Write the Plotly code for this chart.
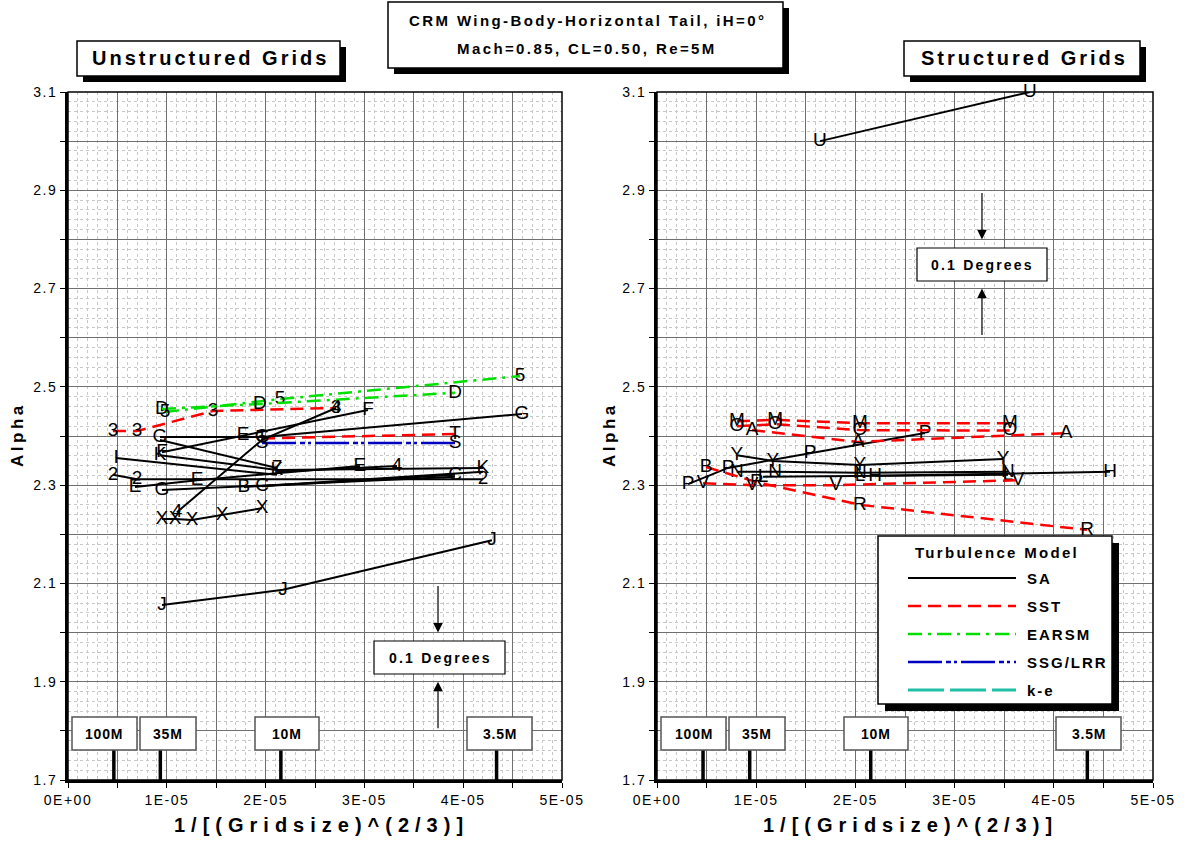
import plotly.graph_objects as go

W, H = 1190, 845
FONT = "Liberation Sans Narrow, Liberation Sans, Arial, sans-serif"

# ---------------- data: Unstructured grids (left panel) ----------------
L3_x = [0.455e-5, 0.698e-5, 1.468e-5, 2.713e-5];  L3_y = [2.410, 2.410, 2.451, 2.457]
LT_x = [1.964e-5, 3.917e-5];                        LT_y = [2.395, 2.404]
L5_x = [0.982e-5, 2.146e-5, 4.575e-5];              L5_y = [2.449, 2.475, 2.522]
LD_x = [0.951e-5, 1.943e-5, 3.917e-5];              LD_y = [2.455, 2.465, 2.488]
LS_x = [1.964e-5, 3.917e-5];                        LS_y = [2.386, 2.386]
LG_x = [0.931e-5, 1.964e-5, 4.595e-5];              LG_y = [2.398, 2.398, 2.445]
LF_x = [0.951e-5, 3.036e-5];                        LF_y = [2.367, 2.453]
LE2_x = [1.771e-5];                                 LE2_y = [2.402]
L7_x = [0.931e-5, 2.115e-5];                        L7_y = [2.392, 2.335]
LI_x = [0.486e-5, 2.115e-5];                        LI_y = [2.355, 2.321]
LK_x = [0.931e-5, 2.115e-5, 4.200e-5];              LK_y = [2.361, 2.331, 2.335]
L4b_x = [2.115e-5, 3.330e-5];                       L4b_y = [2.327, 2.339]
L2_x = [0.455e-5, 0.698e-5, 4.200e-5];              L2_y = [2.321, 2.312, 2.312]
LE_x = [0.678e-5, 1.306e-5, 2.955e-5];              LE_y = [2.296, 2.310, 2.339]
LG2_x = [0.951e-5, 3.917e-5];                       LG2_y = [2.290, 2.317]
LB_x = [1.781e-5, 4.200e-5];                        LB_y = [2.296, 2.327]
LC_x = [1.964e-5, 3.917e-5];                        LC_y = [2.298, 2.321]
L4_x = [1.103e-5, 1.964e-5, 2.713e-5];              L4_y = [2.245, 2.392, 2.457]
LX_x = [0.951e-5, 1.083e-5, 1.255e-5, 1.559e-5, 1.964e-5]; LX_y = [2.231, 2.231, 2.229, 2.239, 2.253]
LJ_x = [0.951e-5, 2.176e-5, 4.291e-5];              LJ_y = [2.056, 2.087, 2.188]

# ---------------- data: Structured grids (right panel) ----------------
RU_x = [1.643e-5, 3.760e-5];                        RU_y = [3.000, 3.100]
RP_x = [0.3125e-5, 0.716e-5, 1.542e-5, 2.702e-5];   RP_y = [2.302, 2.335, 2.365, 2.406]
RY_x = [0.806e-5, 1.169e-5, 2.046e-5, 3.488e-5];    RY_y = [2.361, 2.349, 2.341, 2.353]
RN_x = [0.806e-5, 1.190e-5, 2.046e-5, 3.538e-5];    RN_y = [2.327, 2.327, 2.325, 2.327]
RL_x = [1.069e-5, 2.046e-5, 3.538e-5];              RL_y = [2.317, 2.319, 2.321]
RH_x = [2.198e-5, 4.567e-5];                        RH_y = [2.319, 2.327]
RM_x = [0.806e-5, 1.190e-5, 2.046e-5, 3.558e-5];    RM_y = [2.430, 2.433, 2.426, 2.426]
RO_x = [0.806e-5, 1.190e-5, 2.046e-5, 3.558e-5];    RO_y = [2.420, 2.424, 2.412, 2.411]
RA_x = [0.958e-5, 2.026e-5, 4.123e-5];              RA_y = [2.412, 2.388, 2.406]
RR_x = [0.494e-5, 1.008e-5, 2.046e-5, 4.335e-5];    RR_y = [2.337, 2.306, 2.260, 2.209]
RV_x = [0.464e-5, 0.958e-5, 1.804e-5, 3.639e-5];    RV_y = [2.304, 2.300, 2.300, 2.310]

# grid sizes (cells) marked along the x axis
grid_sizes = [100e6, 35e6, 10e6, 3.5e6]
grid_labels = ["100M", "35M", "10M", "3.5M"]

models = ["SA", "SST", "EARSM", "SSG/LRR", "k-e"]
x_ticks = [0, 0.5e-5, 1e-5, 1.5e-5, 2e-5, 2.5e-5, 3e-5, 3.5e-5, 4e-5, 4.5e-5, 5e-5]
x_ticktext = ["0E+00", "", "1E-05", "", "2E-05", "", "3E-05", "", "4E-05", "", "5E-05"]
y_ticks = [1.7, 1.8, 1.9, 2.0, 2.1, 2.2, 2.3, 2.4, 2.5, 2.6, 2.7, 2.8, 2.9, 3.0, 3.1]
y_ticktext = ["1.7", "", "1.9", "", "2.1", "", "2.3", "", "2.5", "", "2.7", "", "2.9", "", "3.1"]

STYLE = {
    "SA": dict(color="black", width=2, dash="solid"),
    "SST": dict(color="#ff0000", width=2.5, dash="13px,7px"),
    "EARSM": dict(color="#00e000", width=2.5, dash="14px,6px,3px,6px"),
    "SSG/LRR": dict(color="#0000c0", width=2.5, dash="34px,4px,5px,3px,3px,4px"),
    "k-e": dict(color="#20c0a8", width=3, dash="36px,6px"),
}

left_series = [
    ("SST", L3_x, L3_y, ["3", "3", "3", "3"]),
    ("SST", LT_x, LT_y, ["T", "T"]),
    ("EARSM", L5_x, L5_y, ["5", "5", "5"]),
    ("EARSM", LD_x, LD_y, ["D", "D", "D"]),
    ("SSG/LRR", LS_x, LS_y, ["S", "S"]),
    ("SA", LG_x, LG_y, ["G", "G", "G"]),
    ("SA", LF_x, LF_y, ["F", "F"]),
    ("SA", LE2_x, LE2_y, ["E"]),
    ("SA", L7_x, L7_y, ["", "7"]),
    ("SA", LI_x, LI_y, ["I", ""]),
    ("SA", LK_x, LK_y, ["K", "K", "K"]),
    ("SA", L4b_x, L4b_y, ["", "4"]),
    ("SA", L2_x, L2_y, ["2", "2", "2"]),
    ("SA", LE_x, LE_y, ["E", "E", "E"]),
    ("SA", LG2_x, LG2_y, ["G", ""]),
    ("SA", LB_x, LB_y, ["B", ""]),
    ("SA", LC_x, LC_y, ["C", "C"]),
    ("SA", L4_x, L4_y, ["4", "", "4"]),
    ("SA", LX_x, LX_y, ["X"] * 5),
    ("SA", LJ_x, LJ_y, ["J", "J", "J"]),
]
right_series = [
    ("SA", RU_x, RU_y, ["U", "U"]),
    ("SA", RP_x, RP_y, ["P", "P", "P", "P"]),
    ("SA", RY_x, RY_y, ["Y"] * 4),
    ("SA", RN_x, RN_y, ["N"] * 4),
    ("SA", RL_x, RL_y, ["L"] * 3),
    ("SA", RH_x, RH_y, ["H", "H"]),
    ("SST", RM_x, RM_y, ["M"] * 4),
    ("SST", RO_x, RO_y, ["O"] * 4),
    ("SST", RA_x, RA_y, ["A"] * 3),
    ("SST", RR_x, RR_y, ["B", "R", "R", "R"]),
    ("SST", RV_x, RV_y, ["V"] * 4),
]


def fx(p):
    return p / W


def fy(p):
    return 1 - p / H


def sp(s, ls):
    return "<span style='letter-spacing:%spx'>%s</span>" % (ls, s) if s else s


fig = go.Figure()
for axn, series in (("", left_series), ("2", right_series)):
    for model, xs, ys, labs in series:
        fig.add_trace(go.Scatter(
            x=xs, y=ys, text=labs, mode="lines+text", textposition="middle center",
            textfont=dict(family=FONT, size=19, color="black"),
            line=STYLE[model], xaxis="x" + axn, yaxis="y" + axn,
            showlegend=False, cliponaxis=False, hoverinfo="skip"))

# panel pixel boxes
PANELS = [(68, 562, "x", "y"), (657, 1153, "x2", "y2")]
TOP, BOT = 92, 780

axis_common = dict(showline=True, linecolor="black", linewidth=3, ticks="outside",
                   ticklen=5, tickcolor="black", tickwidth=1, automargin=False,
                   tickfont=dict(family=FONT, size=14, color="black"),
                   showgrid=True, gridcolor="#707070", gridwidth=1, zeroline=False)

layout = dict(width=W, height=H, margin=dict(l=0, r=0, t=0, b=0, autoexpand=False),
              paper_bgcolor="white", plot_bgcolor="white", showlegend=False)
for (l, r, xa, ya) in PANELS:
    xk = "xaxis" + xa[1:]
    yk = "yaxis" + ya[1:]
    layout[xk] = dict(axis_common, domain=[fx(l), fx(r)], range=[0, 5e-5],
                      tickmode="array", tickvals=x_ticks,
                      ticktext=[sp(t, 1.5) for t in x_ticktext],
                      anchor=ya,
                      minor=dict(tickmode="linear", tick0=0, dtick=0.1e-5, showgrid=True,
                                 gridcolor="#c8c8c8", griddash="dot", gridwidth=1, ticks=""))
    layout[yk] = dict(axis_common, domain=[fy(BOT), fy(TOP)], range=[1.7, 3.1],
                      tickmode="array", tickvals=y_ticks,
                      ticktext=[sp(t, 1.5) for t in y_ticktext],
                      anchor=xa,
                      minor=dict(tickmode="linear", tick0=1.7, dtick=0.02, showgrid=True,
                                 gridcolor="#c8c8c8", griddash="dot", gridwidth=1, ticks=""))
fig.update_layout(**layout)

shapes = []
ann = []


def rect(x0, y0, x1, y1, fill="white", lw=1.5, lc="black"):
    shapes.append(dict(type="rect", xref="paper", yref="paper", x0=fx(x0), x1=fx(x1),
                       y0=fy(y1), y1=fy(y0), fillcolor=fill, line=dict(color=lc, width=lw),
                       layer="above"))


def shadow_box(x0, y0, x1, y1, off=6):
    rect(x0 + off, y0 + off, x1 + off, y1 + off, fill="black", lw=0)
    rect(x0, y0, x1, y1, fill="white", lw=1.5)


def text(x, y, s, size=15, ls=0, bold=True, anchor="center", angle=0):
    body = sp(s, ls) if ls else s
    ann.append(dict(xref="paper", yref="paper", x=fx(x), y=fy(y),
                    text=("<b>%s</b>" % body) if bold else body,
                    showarrow=False, xanchor=anchor, yanchor="middle", textangle=angle,
                    font=dict(family=FONT, size=size, color="black")))


# frames (top/right thinner borders)
for (l, r, xa, ya) in PANELS:
    shapes.append(dict(type="rect", xref="paper", yref="paper", x0=fx(l), x1=fx(r),
                       y0=fy(BOT), y1=fy(TOP), line=dict(color="black", width=1.5), layer="above"))

# grid size markers
box_offsets = [(4, 69), (72, 128), (187, 251), (399, 464)]
for (l, r, xa, ya) in PANELS:
    for gs, gl, (o0, o1) in zip(grid_sizes, grid_labels, box_offsets):
        xv = gs ** (-2.0 / 3.0)
        shapes.append(dict(type="line", xref=xa, yref="paper", x0=xv, x1=xv,
                           y0=fy(BOT), y1=fy(750), line=dict(color="black", width=3.5), layer="above"))
        rect(l + o0, 717, l + o1, 750, fill="white", lw=1.5, lc="#555555")
        text(l + (o0 + o1) / 2, 733.5, gl, size=14, ls=0.8)

# title boxes
shadow_box(388, 2, 783, 68)
text(587, 20, "CRM Wing-Body-Horizontal Tail, iH=0°", size=15, ls=2.4)
text(587, 48, "Mach=0.85, CL=0.50, Re=5M", size=15, ls=2.4)
shadow_box(77, 41, 340, 76)
text(210, 58, "Unstructured Grids", size=20, ls=3)
shadow_box(904, 41, 1140, 76)
text(1024, 58, "Structured Grids", size=20, ls=3)

# 0.1 degree scale boxes and arrows
rect(374, 641, 505, 674, fill="white", lw=1.2)
text(440.5, 657.5, "0.1 Degrees", size=14, ls=2.2)
rect(917, 248, 1047, 281, fill="white", lw=1.2)
text(983, 264.5, "0.1 Degrees", size=14, ls=2.2)
for xa, ya, xv, ytop, ybot in (("x", "y", 3.745e-5, 2.0, 1.9), ("x2", "y2", 3.276e-5, 2.8, 2.7)):
    ann.append(dict(xref=xa, yref=ya, x=xv, y=ytop, ax=0, ay=-48, showarrow=True, text="",
                    arrowhead=2, arrowsize=1.6, arrowwidth=1.2, arrowcolor="black"))
    ann.append(dict(xref=xa, yref=ya, x=xv, y=ybot, ax=0, ay=48, showarrow=True, text="",
                    arrowhead=2, arrowsize=1.6, arrowwidth=1.2, arrowcolor="black"))

# legend
shadow_box(878, 536, 1112, 704, off=7)
text(997, 552, "Turbulence Model", size=15, ls=2.3)
for i, m in enumerate(models):
    yy = 578 + 28 * i
    st = STYLE[m]
    shapes.append(dict(type="line", xref="paper", yref="paper", x0=fx(908), x1=fx(1016),
                       y0=fy(yy), y1=fy(yy), layer="above",
                       line=dict(color=st["color"], width=st["width"], dash=st["dash"])))
    text(1025, yy, m, size=15, ls=2, anchor="left")

# axis titles
for (l, r, xa, ya), ax_x in zip(PANELS, (18, 610)):
    text(ax_x, 435, "Alpha", size=17, ls=3.5, angle=-90)
    text((l + r) / 2 + 6, 825, "1/[(Gridsize)^(2/3)]", size=20, ls=6)

fig.update_layout(shapes=shapes, annotations=ann)
fig.write_html("out.html", config={"displayModeBar": False},
               post_script="document.body.style.margin='0px';")
